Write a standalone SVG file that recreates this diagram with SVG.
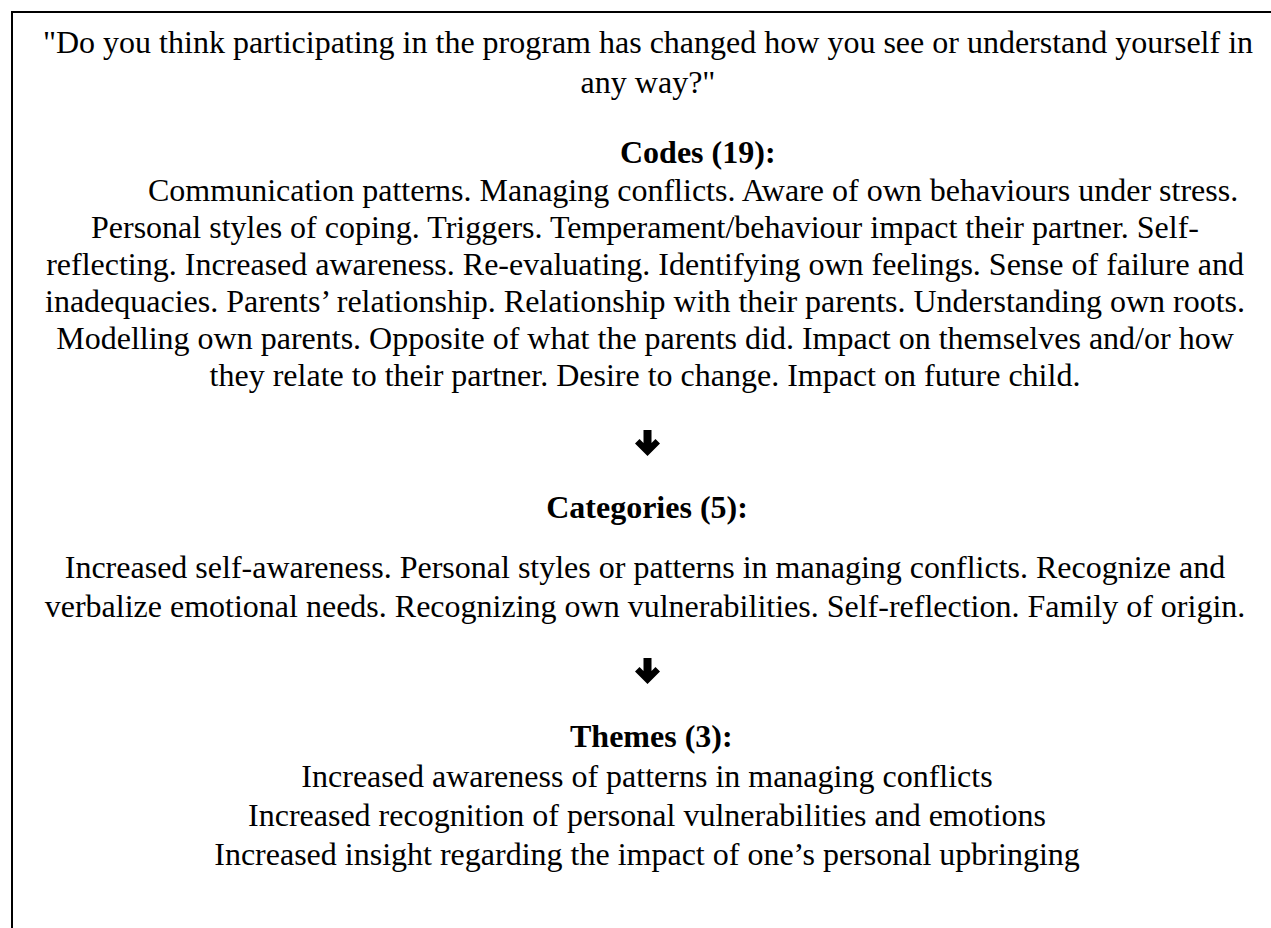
<svg xmlns="http://www.w3.org/2000/svg" width="1271" height="928" viewBox="0 0 1271 928">
  <style>
    .t { font-family: "Liberation Serif", "Times New Roman", serif; font-size: 32px; fill: #000; }
    .c { text-anchor: middle; }
    .b { font-weight: bold; }
    .frame { stroke: #000; stroke-width: 2; fill: none; }
    .arrow { fill: #000; }
  </style>
  <defs>
    <!-- heavy down arrow, tip at origin -->
    <path id="down" d="M-4,-26 H4 V-13 L8,-17 L12.5,-12.5 L0,0 L-12.5,-12.5 L-8,-17 L-4,-13 Z"/>
  </defs>

  <rect width="1271" height="928" fill="#fff"/>

  <!-- open frame: top and left edges only -->
  <g id="frame">
    <line class="frame" x1="11" y1="12" x2="1271" y2="12"/>
    <line class="frame" x1="12" y1="11" x2="12" y2="928"/>
  </g>

  <g id="question">
    <text class="t c" x="648" y="53">"Do you think participating in the program has changed how you see or understand yourself in</text>
    <text class="t c" x="648" y="93">any way?"</text>
  </g>

  <g id="codes">
    <text class="t b" x="620" y="163">Codes (19):</text>
    <text class="t" x="148" y="201">Communication patterns. Managing conflicts. Aware of own behaviours under stress.</text>
    <text class="t c" x="645" y="238">Personal styles of coping. Triggers. Temperament/behaviour impact their partner. Self-</text>
    <text class="t c" x="645" y="275">reflecting. Increased awareness. Re-evaluating. Identifying own feelings. Sense of failure and</text>
    <text class="t c" x="645" y="312">inadequacies. Parents’ relationship. Relationship with their parents. Understanding own roots.</text>
    <text class="t c" x="645" y="349">Modelling own parents. Opposite of what the parents did. Impact on themselves and/or how</text>
    <text class="t c" x="645" y="386">they relate to their partner. Desire to change. Impact on future child.</text>
  </g>

  <g id="categories">
    <text class="t b c" x="647" y="518">Categories (5):</text>
    <text class="t c" x="645" y="578">Increased self-awareness. Personal styles or patterns in managing conflicts. Recognize and</text>
    <text class="t c" x="645" y="617">verbalize emotional needs. Recognizing own vulnerabilities. Self-reflection. Family of origin.</text>
  </g>

  <g id="themes">
    <text class="t b" x="570" y="747">Themes (3):</text>
    <text class="t c" x="647" y="787">Increased awareness of patterns in managing conflicts</text>
    <text class="t c" x="647" y="826">Increased recognition of personal vulnerabilities and emotions</text>
    <text class="t c" x="647" y="865">Increased insight regarding the impact of one’s personal upbringing</text>
  </g>

  <g id="connectors">
    <use href="#down" class="arrow" x="647.5" y="456"/>
    <use href="#down" class="arrow" x="647.5" y="684"/>
  </g>
</svg>
